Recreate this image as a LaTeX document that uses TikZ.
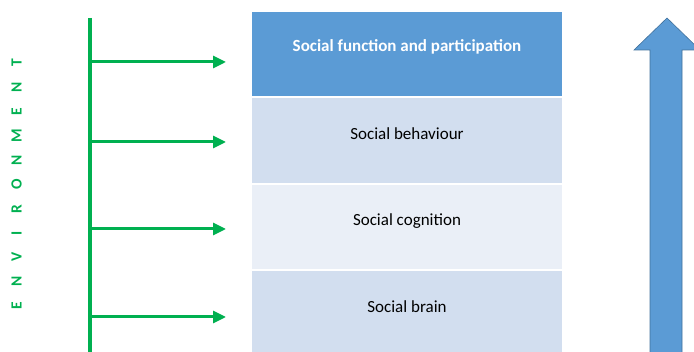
\documentclass[tikz,border=0pt]{standalone}
\usepackage{fontspec}
\setmainfont{Carlito}
\usetikzlibrary{arrows.meta,calc}

\definecolor{envgreen}{RGB}{0,176,80}
\definecolor{topblue}{RGB}{91,155,213}
\definecolor{rowdark}{RGB}{210,222,239}
\definecolor{rowlight}{RGB}{234,239,247}
\definecolor{arrowedge}{RGB}{65,113,156}

% one letter of the spaced vertical caption
\newcommand{\envletter}[1]{\makebox[24.3pt]{#1}}

\tikzset{
  layerbox/.style={draw=none, minimum width=310pt, inner sep=0pt},
  layertext/.style={font=\fontsize{17}{20}\selectfont, text=black,
    inner sep=0pt, text height=12pt, text depth=4pt},
  envline/.style={draw=envgreen, line width=4.8pt},
  envarrow/.style={draw=envgreen, line width=3pt,
    -{Triangle[length=13pt,width=12pt]}},
  levelarrow/.style={fill=topblue, draw=arrowedge, line width=0.6pt},
}

\begin{document}
\begin{tikzpicture}[x=1pt,y=-1pt]
\useasboundingbox (0,0) rectangle (694,352);
\clip (0,0) rectangle (694,352);

% stacked layers
\node[layerbox, fill=topblue,  minimum height=84pt] (r1) at (407,54) {};
\node[layerbox, fill=rowdark,  minimum height=85pt] (r2) at (407,140.5) {};
\node[layerbox, fill=rowlight, minimum height=84pt] (r3) at (407,227) {};
\node[layerbox, fill=rowdark,  minimum height=85pt] (r4) at (407,313.5) {};

\node[layertext, text=white, font=\fontsize{17}{20}\selectfont\bfseries] (t1) at (407,47.5) {Social function and participation};
\node[layertext] (t2) at (407,135.5) {Social behaviour};
\node[layertext] (t3) at (407,221.5) {Social cognition};
\node[layertext] (t4) at (407,308.5) {Social brain};

% environment axis
\node[rotate=90, inner sep=0pt, text=envgreen,
      font=\fontsize{15.5}{18}\selectfont\bfseries] (env) at (16.5,184.5)
  {\envletter{E}\envletter{N}\envletter{V}\envletter{I}\envletter{R}\envletter{O}\envletter{N}\envletter{M}\envletter{E}\envletter{N}\envletter{T}};

\coordinate (top) at (90,18);
\coordinate (bottom) at (90,356);
\draw[envline] (top) -- (bottom);

\foreach \i/\y in {1/62, 2/142, 3/229, 4/317} {
  \coordinate (s\i) at (90,\y);
  \coordinate (e\i) at (226,\y);
  \draw[envarrow] (s\i) -- (e\i);
}

% upward level arrow
\filldraw[levelarrow]
  (650,356) -- (650,50) -- (634,50) -- (667,18) -- (700,50)
  -- (682,50) -- (682,356) -- cycle;
\end{tikzpicture}
\end{document}
